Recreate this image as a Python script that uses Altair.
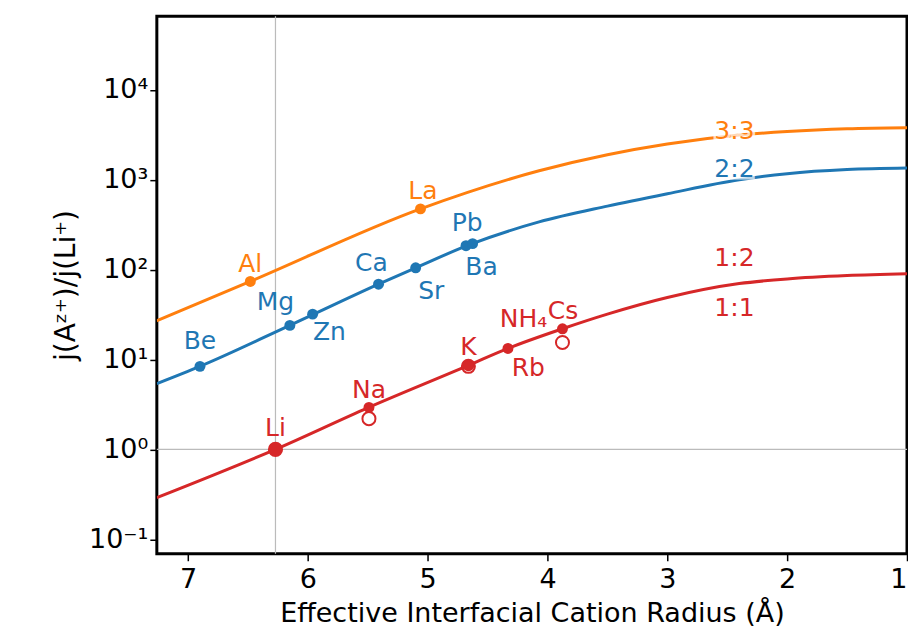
import altair as alt
import pandas as pd

RED, BLUE, ORANGE = "#d62728", "#1f77b4", "#ff7f0e"

# curves (radius in Å, ratio)
red_x = [7.26, 6.27, 5.5, 4.66, 4.33, 3.875, 3.5, 3.0, 2.4, 2.0, 1.5, 1.0]
red_y = [0.29, 1.0, 2.9, 8.6, 13.3, 22, 32, 49, 70, 79, 86, 90]
blue_x = [7.26, 6.9, 6.15, 5.41, 5.1, 4.65, 4.07, 3.5, 3.0, 2.4, 2.0, 1.5, 1.0]
blue_y = [5.4, 8.4, 24, 69, 105, 190, 340, 510, 700, 1000, 1170, 1300, 1350]
orange_x = [7.26, 6.48, 5.06, 4.07, 3.5, 3.0, 2.4, 2.0, 1.5, 1.0]
orange_y = [27, 74, 475, 1260, 1900, 2500, 3150, 3450, 3700, 3800]

# filled points
ion = ["Li", "Na", "K", "Rb", "Cs", "Be", "Mg", "Zn", "Ca", "Sr", "Pb", "Ba", "Al", "La"]
ion_x = [6.27, 5.49, 4.66, 4.33, 3.875, 6.9, 6.15, 5.96, 5.41, 5.1, 4.68, 4.625, 6.48, 5.06]
ion_y = [1.0, 2.93, 8.6, 13.3, 22, 8.4, 24, 32, 69, 105, 185, 195, 74, 475]
ion_grp = ["r", "r", "r", "r", "r", "b", "b", "b", "b", "b", "b", "b", "o", "o"]
ion_size = [230, 120, 140, 120, 120, 120, 120, 120, 120, 120, 120, 120, 120, 120]

# open points
open_x = [5.49, 4.66, 3.875]
open_y = [2.2, 8.4, 15.5]

# labels
lab_text = ["Li", "Na", "K", "NH₄", "Cs", "Rb", "Be", "Mg", "Zn", "Ca", "Sr", "Pb", "Ba", "Al", "La",
            "1:2", "1:1"]
lab_x = [6.27, 5.49, 4.66, 4.2, 3.87, 4.16, 6.9, 6.27, 5.82, 5.47, 4.97, 4.67, 4.55, 6.48, 5.04,
         2.44, 2.44]
lab_py = [428, 390, 346, 318, 310, 367, 340, 301, 331, 262, 290, 222, 266, 263, 190, 257, 307]
lab_grp = ["r"] * 6 + ["b"] * 7 + ["o"] * 2 + ["r", "r"]
halo_text = ["3:3", "2:2"]
halo_x = [2.44, 2.44]
halo_py = [130, 168]
halo_grp = ["o", "b"]


def py2v(p):
    return 10 ** ((449 - p) / 90)


grp_scale = alt.Scale(domain=["r", "b", "o"], range=[RED, BLUE, ORANGE])
xs = alt.Scale(domain=[7.26, 1.0], nice=False)
ys = alt.Scale(type="log", domain=[0.069, 66000], nice=False)

curves = pd.concat([
    pd.DataFrame({"x": red_x, "y": red_y, "g": "r"}),
    pd.DataFrame({"x": blue_x, "y": blue_y, "g": "b"}),
    pd.DataFrame({"x": orange_x, "y": orange_y, "g": "o"}),
])
pts = pd.DataFrame({"x": ion_x, "y": ion_y, "g": ion_grp, "s": ion_size})
opens = pd.DataFrame({"x": open_x, "y": open_y})
labs = pd.DataFrame({"x": lab_x, "y": [py2v(p) for p in lab_py], "t": lab_text, "g": lab_grp})
halos = pd.DataFrame({"x": halo_x, "y": [py2v(p) for p in halo_py], "t": halo_text, "g": halo_grp})

X = alt.X("x:Q", scale=xs, title="Effective Interfacial Cation Radius (Å)",
          axis=alt.Axis(values=[7, 6, 5, 4, 3, 2, 1], format="d", grid=False, labelFontSize=27,
                        titleFontSize=27, tickSize=7, tickWidth=1.5, labelPadding=6,
                        titlePadding=8, titleFontWeight="normal", domain=False))
Y = alt.Y("y:Q", scale=ys, title="j(Aᶻ⁺)/j(Li⁺)",
          axis=alt.Axis(values=[0.1, 1, 10, 100, 1000, 10000], grid=False, labelFontSize=27,
                        titleFontSize=28, tickSize=7, tickWidth=1.5, titleFontWeight="normal",
                        domain=False, titlePadding=8,
                        labelExpr="['10⁻¹','10⁰','10¹','10²','10³','10⁴'][round(log(datum.value)/LN10)+1]"))

base = alt.Chart(curves)
vrule = alt.Chart(pd.DataFrame({"x": [6.27]})).mark_rule(color="#bbbbbb", strokeWidth=1.2).encode(x=alt.X("x:Q", scale=xs))
hrule = alt.Chart(pd.DataFrame({"y": [1.0]})).mark_rule(color="#bbbbbb", strokeWidth=1.2).encode(y=alt.Y("y:Q", scale=ys))

lines = base.mark_line(interpolate="monotone", strokeWidth=3, clip=True).encode(
    x=X, y=Y, color=alt.Color("g:N", scale=grp_scale, legend=None), detail="g:N")
dots = alt.Chart(pts).mark_circle(opacity=1).encode(
    x=alt.X("x:Q", scale=xs), y=alt.Y("y:Q", scale=ys),
    color=alt.Color("g:N", scale=grp_scale, legend=None),
    size=alt.Size("s:Q", scale=None, legend=None))
odots = alt.Chart(opens).mark_point(shape="circle", filled=False, color=RED, opacity=1,
                                    size=170, strokeWidth=2).encode(
    x=alt.X("x:Q", scale=xs), y=alt.Y("y:Q", scale=ys))
texts = alt.Chart(labs).mark_text(fontSize=25, font="DejaVu Sans").encode(
    x=alt.X("x:Q", scale=xs), y=alt.Y("y:Q", scale=ys), text="t:N",
    color=alt.Color("g:N", scale=grp_scale, legend=None))
halo_bg = alt.Chart(halos).mark_text(fontSize=25, font="DejaVu Sans", stroke="white",
                                     strokeWidth=5, strokeOpacity=0.7, fill="white").encode(
    x=alt.X("x:Q", scale=xs), y=alt.Y("y:Q", scale=ys), text="t:N")
halo_fg = alt.Chart(halos).mark_text(fontSize=25, font="DejaVu Sans").encode(
    x=alt.X("x:Q", scale=xs), y=alt.Y("y:Q", scale=ys), text="t:N",
    color=alt.Color("g:N", scale=grp_scale, legend=None))

chart = (vrule + hrule + lines + dots + odots + texts + halo_bg + halo_fg).properties(
    width=751, height=538, padding={"left": 44, "top": 7, "right": 0, "bottom": 0}
).configure_view(stroke="black", strokeWidth=3).configure_axis(
    labelFont="DejaVu Sans", titleFont="DejaVu Sans", labelColor="black", titleColor="black",
    tickColor="black")

chart.save("out.html", embed_options={"renderer": "svg", "actions": False})
